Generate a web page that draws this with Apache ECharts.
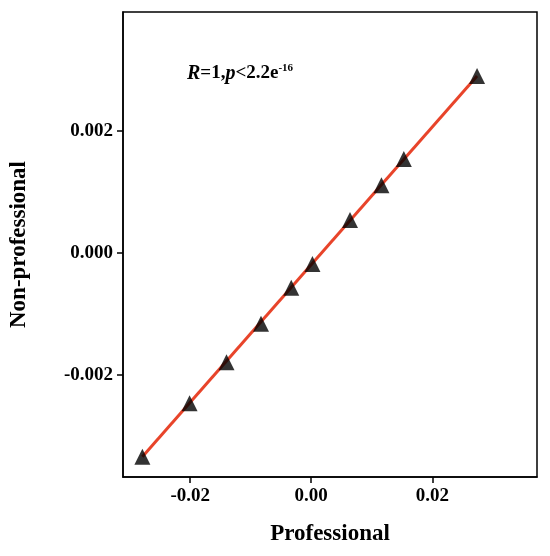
<!DOCTYPE html>
<html><head><meta charset="utf-8">
<script src="https://cdn.jsdelivr.net/npm/echarts@6/dist/echarts.min.js"></script>
<style>html,body{margin:0;padding:0;background:#fff}#c{width:550px;height:556px}</style>
</head><body><div id="c"></div>
<script>
const professional = [-0.0279,-0.0201,-0.0140,-0.0083,-0.0033,0.0002,0.0064,0.0116,0.0153,0.0274];
const nonProfessional = [-0.00334,-0.00246,-0.00179,-0.00116,-0.00057,-0.00018,0.00054,0.00111,0.00154,0.00290];
const xTicks = [-0.02,0,0.02];
const yTicks = [-0.002,0,0.002];
const pts = professional.map((x,i)=>[x,nonProfessional[i]]);
const F = '"Liberation Serif","DejaVu Serif",serif';
const chart = echarts.init(document.getElementById('c'));
chart.setOption({
  animation:false,
  grid:{left:118,top:12,width:419,height:465,show:true,borderColor:'#000',borderWidth:1.5,backgroundColor:'transparent'},
  xAxis:{type:'value',min:-0.0311,max:0.0373,splitLine:{show:false},
    axisLine:{show:true,onZero:false,lineStyle:{color:'#000',width:1.5}},
    axisTick:{show:true,customValues:xTicks,length:6,lineStyle:{color:'#000',width:1.5}},
    axisLabel:{customValues:xTicks,formatter:v=>v.toFixed(2),color:'#000',fontFamily:F,fontWeight:'bold',fontSize:19,margin:10},
    name:'Professional',nameLocation:'middle',nameGap:46,nameTextStyle:{color:'#000',fontFamily:F,fontWeight:'bold',fontSize:23}},
  yAxis:{type:'value',min:-0.00367,max:0.00395,splitLine:{show:false},
    axisLine:{show:true,onZero:false,lineStyle:{color:'#000',width:1.5}},
    axisTick:{show:true,customValues:yTicks,length:6,lineStyle:{color:'#000',width:1.5}},
    axisLabel:{customValues:yTicks,formatter:v=>v.toFixed(3),color:'#000',fontFamily:F,fontWeight:'bold',fontSize:19,margin:10},
    name:'Non-professional',nameLocation:'middle',nameGap:92,nameTextStyle:{color:'#000',fontFamily:F,fontWeight:'bold',fontSize:23}},
  graphic:[{type:'text',left:187,top:63,style:{
    text:'{i|R}{b|=1,}{i|p}{b|<2.2e}{s|-16}',
    rich:{i:{fontFamily:F,fontStyle:'italic',fontWeight:'bold',fontSize:20,fill:'#000'},
          b:{fontFamily:F,fontWeight:'bold',fontSize:19,fill:'#000'},
          s:{fontFamily:F,fontWeight:'bold',fontSize:11,fill:'#000',verticalAlign:'top',padding:[0,0,10,0]}}}}],
  series:[
    {type:'line',data:[pts[0],pts[pts.length-1]],showSymbol:false,lineStyle:{color:'#e8442a',width:3},z:2},
    {type:'scatter',data:pts,symbol:'triangle',symbolSize:16,itemStyle:{color:'#000'},z:3}
  ]
});
</script></body></html>
